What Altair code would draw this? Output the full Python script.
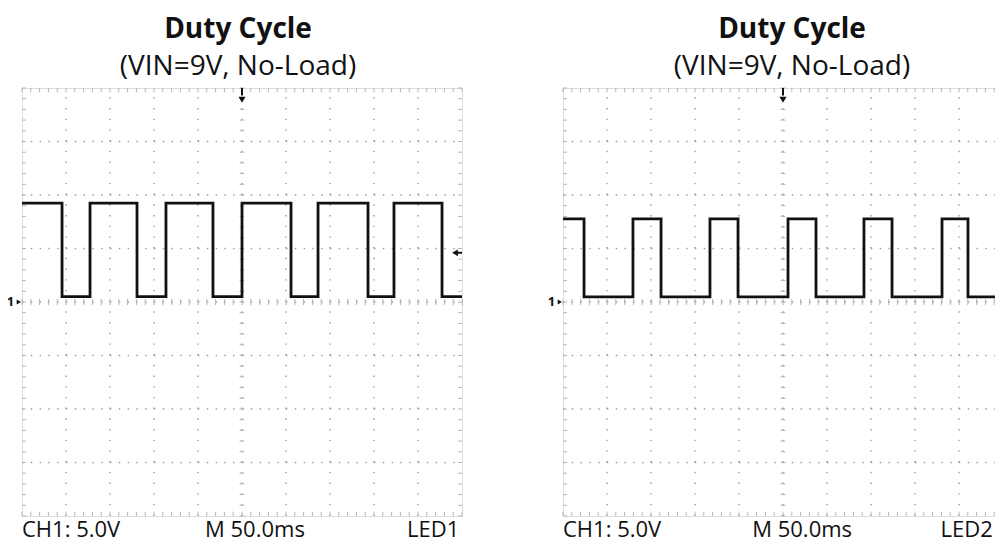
import altair as alt
import pandas as pd

# ---- data (time in ms, level in V) ----
left_edges_ms = [0, 45.5, 77.3, 130.7, 163.6, 217.0, 250.0, 305.7, 336.4, 393.2, 422.7, 477.3, 500]
left_levels_v = [9.25, 0.5, 9.25, 0.5, 9.25, 0.5, 9.25, 0.5, 9.25, 0.5, 9.25, 0.5, 0.5]
right_edges_ms = [0, 23.9, 79.5, 111.4, 167.0, 198.9, 255.7, 287.5, 342.0, 373.9, 430.7, 460.2, 500]
right_levels_v = [7.76, 0.47, 7.76, 0.47, 7.76, 0.47, 7.76, 0.47, 7.76, 0.47, 7.76, 0.47, 0.47]

time_grid_ms = [50, 100, 150, 200, 250, 300, 350, 400, 450]
volt_grid_v = [-15, -10, -5, 0, 5, 10, 15]
minor_ms = list(range(0, 501, 10))
minor_v = list(range(-20, 21, 1))

title_text = "Duty Cycle"
subtitle_text = "(VIN=9V, No-Load)"
left_labels = ["CH1: 5.0V", "M 50.0ms", "LED1"]
left_label_ms = [0, 208, 497]
left_label_align = ["left", "left", "right"]
right_labels = ["CH1: 5.0V", "M 50.0ms", "LED2"]
right_label_ms = [0, 215, 429]
right_label_align = ["left", "left", "left"]
label_level_v = -22.0
trigger_ms = 250
trigger_level_v = 4.6

FONT = "Open Sans"
GRID = "#9a9a9a"
TICK = "#b5b5b5"

xs = alt.Scale(domain=[0, 500], nice=False, zero=False)
ys = alt.Scale(domain=[-20, 20], nice=False, zero=False)


def X(f):
    return alt.X(f, scale=xs, axis=None)


def Y(f):
    return alt.Y(f, scale=ys, axis=None)


def panel(edges, levels, labels, label_ms, label_align, show_level_marker, title_dx):
    trace = pd.DataFrame({"t": edges, "v": levels})
    vgrid = pd.DataFrame({"t": time_grid_ms, "a": -20, "b": 20})
    hgrid = pd.DataFrame({"v": volt_grid_v, "a": 0, "b": 500})

    xt = []
    for t in minor_ms:
        for a, b in [(-20, -19.6), (20, 19.6), (-0.28, 0.28)]:
            xt.append({"t": t, "a": a, "b": b})
    xticks = pd.DataFrame(xt)
    yt = []
    for v in minor_v:
        for a, b in [(0, 4.5), (495.5, 500), (247.2, 252.8)]:
            yt.append({"v": v, "a": a, "b": b})
    yticks = pd.DataFrame(yt)

    layers = []
    layers.append(
        alt.Chart(vgrid).mark_rule(color=GRID, strokeWidth=1.4, strokeDash=[1.4, 9.3]).encode(
            x=X("t:Q"), y=Y("a:Q"), y2="b:Q"
        )
    )
    layers.append(
        alt.Chart(hgrid).mark_rule(color=GRID, strokeWidth=1.4, strokeDash=[1.4, 7.4]).encode(
            y=Y("v:Q"), x=X("a:Q"), x2="b:Q"
        )
    )
    layers.append(
        alt.Chart(xticks).mark_rule(color=TICK, strokeWidth=1).encode(
            x=X("t:Q"), y=Y("a:Q"), y2="b:Q"
        )
    )
    layers.append(
        alt.Chart(yticks).mark_rule(color=TICK, strokeWidth=1).encode(
            y=Y("v:Q"), x=X("a:Q"), x2="b:Q"
        )
    )
    layers.append(
        alt.Chart(trace).mark_line(color="#111111", strokeWidth=2.8, interpolate="step-after").encode(
            x=X("t:Q"), y=Y("v:Q")
        )
    )
    # trigger position marker (top)
    trig = pd.DataFrame({"t": [trigger_ms], "a": [20], "b": [19.3], "h": [18.9]})
    layers.append(
        alt.Chart(trig).mark_rule(color="#111", strokeWidth=2).encode(
            x=X("t:Q"), y=Y("a:Q"), y2="b:Q"
        )
    )
    layers.append(
        alt.Chart(trig).mark_point(shape="triangle-down", filled=True, color="#111", size=50, opacity=1).encode(
            x=X("t:Q"), y=Y("h:Q")
        )
    )
    # channel ground marker
    gnd = pd.DataFrame({"t": [-13.0], "ta": [-3.6], "v": [0], "s": ["1"]})
    layers.append(
        alt.Chart(gnd).mark_text(font=FONT, fontSize=13, fontWeight="bold", color="#111", align="center", baseline="middle").encode(
            x=X("t:Q"), y=Y("v:Q"), text="s:N"
        )
    )
    layers.append(
        alt.Chart(gnd).mark_point(shape="triangle-right", filled=True, color="#111", size=24, opacity=1).encode(
            x=X("ta:Q"), y=Y("v:Q")
        )
    )
    if show_level_marker:
        lvl = pd.DataFrame({"h": [492.0], "a": [493.0], "b": [500.0], "v": [trigger_level_v]})
        layers.append(
            alt.Chart(lvl).mark_rule(color="#111", strokeWidth=2).encode(
                x=X("a:Q"), x2="b:Q", y=Y("v:Q")
            )
        )
        layers.append(
            alt.Chart(lvl).mark_point(shape="triangle-left", filled=True, color="#111", size=45, opacity=1).encode(
                x=X("h:Q"), y=Y("v:Q")
            )
        )
    lab = pd.DataFrame({"t": label_ms, "s": labels, "al": label_align, "v": [label_level_v] * 3})
    for al in ["left", "right"]:
        sub = lab[lab["al"] == al]
        if len(sub):
            layers.append(
                alt.Chart(sub).mark_text(font=FONT, fontSize=22, color="#111", align=al, baseline="alphabetic").encode(
                    x=X("t:Q"), y=Y("v:Q"), text="s:N"
                )
            )
    return alt.layer(*layers).properties(
        width=440,
        height=428,
        title=alt.TitleParams(
            text=title_text,
            subtitle=subtitle_text,
            font=FONT,
            fontSize=28,
            fontWeight="bold",
            color="#111",
            subtitleFont=FONT,
            subtitleFontSize=28,
            subtitleColor="#111",
            subtitlePadding=9,
            anchor="middle",
            offset=6,
            dx=title_dx,
        ),
    )


left = panel(left_edges_ms, left_levels_v, left_labels, left_label_ms, left_label_align, True, -4)
right = panel(right_edges_ms, right_levels_v, right_labels, right_label_ms, right_label_align, False, 9)

chart = (
    alt.hconcat(left, right, spacing=101, bounds="flush")
    .properties(
        autosize=alt.AutoSizeParams(type="none"),
        padding={"left": 14, "top": 80, "right": 973, "bottom": 456},
    )
    .configure_view(stroke="#cfcfcf", strokeWidth=2)
    .configure(background="white")
)

chart.save("out.html", embed_options={"renderer": "svg", "actions": False})
